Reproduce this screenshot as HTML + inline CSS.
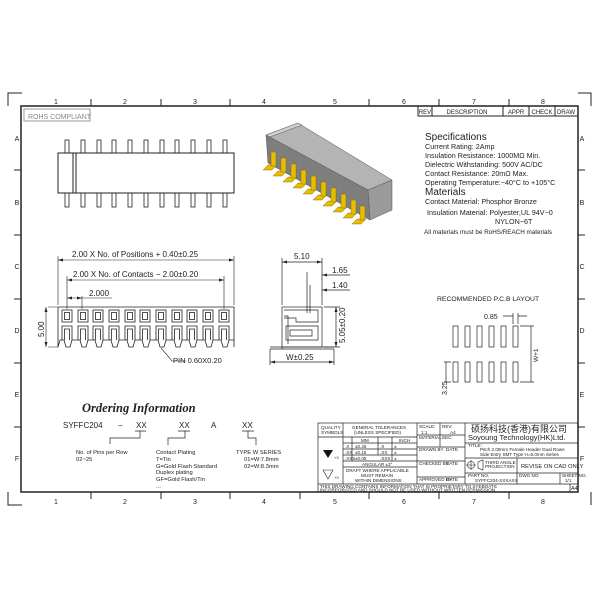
<!DOCTYPE html>
<html><head><meta charset="utf-8"><style>
html,body{margin:0;padding:0;background:#fff;width:600px;height:600px;overflow:hidden}
svg{display:block}
text{font-family:"Liberation Sans","Noto Sans CJK SC",sans-serif;fill:#222}
</style></head><body>
<svg width="600" height="600" viewBox="0 0 600 600" xmlns="http://www.w3.org/2000/svg">
<g stroke="#222" fill="none" stroke-width="1">
<rect x="21" y="106" width="557" height="386" stroke-width="1.5"/>
<path d="M8 106V93H22 M578 93H591V106 M8 492V505H22 M591 492V505"/>
<path d="M91 99V106 M161 99V106 M230 99V106 M369 99V106 M439 99V106 M509 99V106 M91 492V499 M161 492V499 M230 492V499 M300 492V499 M369 492V499 M439 492V499 M509 492V499 M14 170H21 M14 235H21 M14 299H21 M14 363H21 M14 427H21 M578 170H585 M578 235H585 M578 299H585 M578 363H585 M578 427H585"/>
<rect x="418" y="106" width="160" height="10"/>
<path d="M432 106V116 M503 106V116 M529 106V116 M555 106V116"/>
<rect x="24" y="109" width="66" height="12" stroke="#999"/>
<rect x="58" y="153" width="176" height="40"/>
<path d="M73 153V193 M76 153V193" stroke-width="1"/>
</g>
<g font-size="7" text-anchor="middle">
<text x="56" y="104">1</text><text x="125" y="104">2</text><text x="195" y="104">3</text><text x="264" y="104">4</text><text x="335" y="104">5</text><text x="404" y="104">6</text><text x="474" y="104">7</text><text x="543" y="104">8</text>
<text x="56" y="504">1</text><text x="125" y="504">2</text><text x="195" y="504">3</text><text x="264" y="504">4</text><text x="335" y="504">5</text><text x="404" y="504">6</text><text x="474" y="504">7</text><text x="543" y="504">8</text>
<text x="17" y="141">A</text><text x="17" y="205">B</text><text x="17" y="269">C</text><text x="17" y="333">D</text><text x="17" y="397">E</text><text x="17" y="461">F</text>
<text x="582" y="141">A</text><text x="582" y="205">B</text><text x="582" y="269">C</text><text x="582" y="333">D</text><text x="582" y="397">E</text><text x="582" y="461">F</text>
</g>
<g font-size="6" text-anchor="middle">
<text x="425" y="114">REV</text><text x="467" y="114">DESCRIPTION</text><text x="516" y="114">APPR</text><text x="542" y="114">CHECK</text><text x="566" y="114">DRAW</text>
</g>
<text x="28" y="119" font-size="7" style="fill:#888">ROHS COMPLIANT</text>

<g stroke="#222" fill="none" stroke-width="0.8">
<rect x="65" y="140" width="4" height="13"/><rect x="81" y="140" width="4" height="13"/><rect x="97" y="140" width="4" height="13"/><rect x="112" y="140" width="4" height="13"/><rect x="128" y="140" width="4" height="13"/><rect x="144" y="140" width="4" height="13"/><rect x="160" y="140" width="4" height="13"/><rect x="175" y="140" width="4" height="13"/><rect x="191" y="140" width="4" height="13"/><rect x="207" y="140" width="4" height="13"/><rect x="223" y="140" width="4" height="13"/>
<rect x="65" y="193" width="4" height="14"/><rect x="81" y="193" width="4" height="14"/><rect x="97" y="193" width="4" height="14"/><rect x="112" y="193" width="4" height="14"/><rect x="128" y="193" width="4" height="14"/><rect x="144" y="193" width="4" height="14"/><rect x="160" y="193" width="4" height="14"/><rect x="175" y="193" width="4" height="14"/><rect x="191" y="193" width="4" height="14"/><rect x="207" y="193" width="4" height="14"/><rect x="223" y="193" width="4" height="14"/>
</g>

<g stroke="#222" fill="none" stroke-width="0.8">
<path d="M58 307H234V347"/>
<path d="M58 307V347"/>
<path d="M58 347 L60 340 H64 L66 347 H70 L72 340 H80 L82 347 H86 L88 340 H95 L97 347 H101 L103 340 H111 L113 347 H117 L119 340 H127 L129 347 H133 L135 340 H142 L144 347 H148 L150 340 H158 L160 347 H164 L166 340 H174 L176 347 H180 L182 340 H189 L191 347 H195 L197 340 H205 L207 347 H211 L213 340 H221 L223 347 H227 L229 340 H234"/>
</g>
<g stroke="#222" fill="none" stroke-width="0.8">
<rect x="62" y="310" width="10" height="12"/><rect x="78" y="310" width="10" height="12"/><rect x="93" y="310" width="10" height="12"/><rect x="109" y="310" width="10" height="12"/><rect x="125" y="310" width="10" height="12"/><rect x="140" y="310" width="10" height="12"/><rect x="156" y="310" width="10" height="12"/><rect x="172" y="310" width="10" height="12"/><rect x="187" y="310" width="10" height="12"/><rect x="203" y="310" width="10" height="12"/><rect x="219" y="310" width="10" height="12"/>
<rect x="64.5" y="312.5" width="5" height="7"/><rect x="80.5" y="312.5" width="5" height="7"/><rect x="95.5" y="312.5" width="5" height="7"/><rect x="111.5" y="312.5" width="5" height="7"/><rect x="127.5" y="312.5" width="5" height="7"/><rect x="142.5" y="312.5" width="5" height="7"/><rect x="158.5" y="312.5" width="5" height="7"/><rect x="174.5" y="312.5" width="5" height="7"/><rect x="189.5" y="312.5" width="5" height="7"/><rect x="205.5" y="312.5" width="5" height="7"/><rect x="221.5" y="312.5" width="5" height="7"/>
<path d="M62 340V326H72V340 M64.5 340V329H69.5V340"/>
<path d="M78 340V326H88V340 M80.5 340V329H85.5V340"/>
<path d="M93 340V326H103V340 M95.5 340V329H100.5V340"/>
<path d="M109 340V326H119V340 M111.5 340V329H116.5V340"/>
<path d="M125 340V326H135V340 M127.5 340V329H132.5V340"/>
<path d="M140 340V326H150V340 M142.5 340V329H147.5V340"/>
<path d="M156 340V326H166V340 M158.5 340V329H163.5V340"/>
<path d="M172 340V326H182V340 M174.5 340V329H179.5V340"/>
<path d="M187 340V326H197V340 M189.5 340V329H194.5V340"/>
<path d="M203 340V326H213V340 M205.5 340V329H210.5V340"/>
<path d="M219 340V326H229V340 M221.5 340V329H226.5V340"/>
</g>
<g stroke="#222" fill="none" stroke-width="0.6">
<path d="M58 305V256 M234 305V256 M58 260H234"/>
<path d="M67 309V276 M224 309V276 M67 280H224"/>
<path d="M67 298H112 M82 309V296"/>
<path d="M48 307H58 M48 347H58 M46 307V347"/>
<path d="M161 348L172 361H186"/>
</g>
<g fill="#222">
<path d="M58 260l5-1.5v3z M234 260l-5-1.5v3z M67 280l5-1.5v3z M224 280l-5-1.5v3z M67 298l5-1.5v3z M82 298l-5-1.5v3z M46 307l-1.5 5h3z M46 347l-1.5-5h3z"/>
</g>
<g font-size="8">
<text x="72" y="257">2.00  X  No.  of  Positions  +  0.40±0.25</text>
<text x="73" y="277">2.00  X  No.  of  Contacts  −  2.00±0.20</text>
<text x="89" y="296">2.000</text>
<text x="173" y="363" font-size="7.5">PIN  0.60X0.20</text>
<text transform="translate(44,337) rotate(-90)" font-size="8">5.00</text>
</g>

<g stroke="#222" fill="none" stroke-width="0.7">
<rect x="282" y="307" width="40" height="40"/>
<path d="M270 347H334 M270 349H334 M282 349V347"/>
<path d="M284 310H318V322H296V318H284 M286 326H318V340H286Z M290 330H312V336H290Z M284 316H288V344"/>
<path d="M282 305V258 M322 305V258 M282 262H322"/>
<path d="M307 313V272 M310 313V285"/>
<path d="M322 290H350 M322 275H350 M324 307H340 M324 347H340 M336 307V347"/>
<path d="M270 349V365 M334 349V365 M270 362H334"/>
</g>
<g fill="#222"><path d="M282 262l5-1.5v3z M322 262l-5-1.5v3z M336 307l-1.5 5h3z M336 347l-1.5-5h3z M270 362l5-1.5v3z M334 362l-5-1.5v3z M322 275l5-1.5v3z M322 290l5-1.5v3z"/></g>
<g font-size="8">
<text x="294" y="259">5.10</text>
<text x="332" y="273">1.65</text>
<text x="332" y="288">1.40</text>
<text x="286" y="360">W±0.25</text>
<text transform="translate(345,343) rotate(-90)">5.05±0.20</text>
</g>

<g stroke="#555" stroke-width="0.5">
<polygon points="266,135 298,123 392,180 368,190" fill="#b4b4b4"/>
<polygon points="266,135 368,190 370,220 268,163" fill="#7e7e7e"/>
<polygon points="368,190 392,180 392,210 370,220" fill="#9a9a9a"/>
<polygon points="266,135 298,123 302,125 270,137" fill="#d0d0d0"/>
</g>
<g fill="#e6bd00" stroke="#7a6000" stroke-width="0.4">
<polygon points="263,170 272,170 277,165 268,165"/><polygon points="271,166 276,166 276,152 271,152"/>
<polygon points="273,176 282,176 287,171 278,171"/><polygon points="281,172 286,172 286,158 281,158"/>
<polygon points="283,182 292,182 297,177 288,177"/><polygon points="291,178 296,178 296,164 291,164"/>
<polygon points="293,188 302,188 307,183 298,183"/><polygon points="301,184 306,184 306,170 301,170"/>
<polygon points="303,194 312,194 317,189 308,189"/><polygon points="311,190 316,190 316,176 311,176"/>
<polygon points="313,200 322,200 327,195 318,195"/><polygon points="321,196 326,196 326,182 321,182"/>
<polygon points="323,206 332,206 337,201 328,201"/><polygon points="331,202 336,202 336,188 331,188"/>
<polygon points="333,212 342,212 347,207 338,207"/><polygon points="341,208 346,208 346,194 341,194"/>
<polygon points="343,218 352,218 357,213 348,213"/><polygon points="351,214 356,214 356,200 351,200"/>
<polygon points="352,224 361,224 366,219 357,219"/><polygon points="360,220 365,220 365,206 360,206"/>
</g>

<g font-size="7.2">
<text x="425" y="140" font-size="10">Specifications</text>
<text x="425" y="149">Current Rating:   2Amp</text>
<text x="425" y="158">Insulation Resistance:    1000MΩ Min.</text>
<text x="425" y="167">Dielectric Withstanding:    500V AC/DC</text>
<text x="425" y="176">Contact Resistance:    20mΩ Max.</text>
<text x="425" y="185">Operating Temperature:−40°C  to  +105°C</text>
<text x="425" y="195" font-size="10">Materials</text>
<text x="425" y="204">Contact Material:  Phosphor Bronze</text>
<text x="427" y="215">Insulation Material:  Polyester,UL  94V−0</text>
<text x="495" y="224">NYLON−6T</text>
<text x="424" y="234" font-size="6.3">All materials must be RoHS/REACH materials</text>
</g>

<text x="437" y="301" font-size="6.8">RECOMMENDED  P.C.B  LAYOUT</text>
<g stroke="#222" fill="none" stroke-width="0.7">
<rect x="453" y="326" width="5" height="21"/><rect x="465" y="326" width="5" height="21"/><rect x="477" y="326" width="5" height="21"/><rect x="489" y="326" width="5" height="21"/><rect x="501" y="326" width="5" height="21"/><rect x="513" y="326" width="5" height="21"/>
<rect x="453" y="362" width="5" height="20"/><rect x="465" y="362" width="5" height="20"/><rect x="477" y="362" width="5" height="20"/><rect x="489" y="362" width="5" height="20"/><rect x="501" y="362" width="5" height="20"/><rect x="513" y="362" width="5" height="20"/>
<path d="M513 324V313 M518 324V313 M503 316H513 M518 316H527"/>
<path d="M520 326H534 M520 382H534 M531 326V382"/>
<path d="M444 362H451 M444 382H451 M446 362V382"/>
</g>
<text x="484" y="319" font-size="7">0.85</text>
<text transform="translate(538,362) rotate(-90)" font-size="6.5">W+1</text>
<text transform="translate(447,395) rotate(-90)" font-size="7">3.25</text>

<text x="82" y="412" font-size="12.5" font-weight="bold" font-style="italic" style="font-family:'Liberation Serif',serif">Ordering Information</text>
<g font-size="8">
<text x="63" y="428">SYFFC204</text>
<text x="118" y="428">−</text>
<text x="136" y="428">XX</text>
<text x="179" y="428">XX</text>
<text x="211" y="428">A</text>
<text x="242" y="428">XX</text>
</g>
<g stroke="#222" fill="none" stroke-width="0.7">
<path d="M135 431H146 M140 431V438H110V444 M178 431H190 M185 431V438H168V445 M242 431H254 M248 431V438H256V445"/>
</g>
<g font-size="5.8">
<text x="76" y="454">No. of Pins per Row</text><text x="76" y="461">02~25</text>
<text x="156" y="454">Contact Plating</text><text x="156" y="461">T=Tin</text><text x="156" y="468">G=Gold Flash Standard</text><text x="156" y="474">Duplex plating</text><text x="156" y="481">GF=Gold Flash/Tin</text><text x="156" y="488">...</text>
<text x="236" y="454">TYPE  W  SERIES</text><text x="244" y="461">01=W:7.8mm</text><text x="244" y="468">02=W:8.3mm</text>
</g>

<g stroke="#222" fill="none" stroke-width="0.7">
<rect x="318" y="423" width="260" height="69"/>
<path d="M343 423V484 M417 423V484 M465 423V484 M440 423V447"/>
<path d="M318 437H343 M343 437H417 M352 437V461 M378 437V455 M392 437V461 M343 443H417 M343 449H417 M343 455H417 M343 461H417 M343 467H417"/>
<path d="M417 435H465 M417 447H465 M417 461H465 M417 477H465 M318 484H578"/>
<path d="M465 443H578 M465 458H578 M465 473H578 M517 458V484 M560 473V484 M570 484V492"/>
</g>
<g font-size="4.6">
<text x="321" y="429">QUALITY</text><text x="321" y="434">SYMBOLS</text>
<text x="352" y="429">GENERAL TOLERANCES</text><text x="354" y="434">(UNLESS SPECIFIED)</text>
<text x="361" y="442">MM</text><text x="399" y="442">INCH</text>
<text x="345" y="448">.X</text><text x="355" y="448">±0.25</text><text x="380" y="448">.X</text><text x="394" y="448">±</text>
<text x="345" y="454">.XX</text><text x="355" y="454">±0.15</text><text x="380" y="454">.XX</text><text x="394" y="454">±</text>
<text x="345" y="460">.XXX</text><text x="355" y="460">±0.05</text><text x="380" y="460">.XXX</text><text x="394" y="460">±</text>
<text x="362" y="466">ANGULAR ±3°</text>
<text x="346" y="472">DRAFT WHERE APPLICABLE</text><text x="361" y="477">MUST REMAIN</text><text x="355" y="482">WITHIN DIMENSIONS</text>
<text x="419" y="428">SCALE:</text><text x="421" y="434">1:1</text><text x="442" y="428">REV:</text><text x="450" y="434">A4</text>
<text x="419" y="439">MATERIAL:</text><text x="442" y="439">SEC:</text>
<text x="419" y="451">DRAWN BY</text><text x="446" y="451">DATE</text>
<text x="419" y="465">CHECKED BY</text><text x="446" y="465">DATE</text>
<text x="419" y="481">APPROVED BY</text><text x="446" y="481">DATE</text>
<text x="468" y="447">TITLE:</text>
<text x="480" y="451">Pitch 2.00mm Female Header Dual Rows</text><text x="480" y="456">Side Entry SMT Type H=5.0mm Series</text>
<text x="485" y="464">THIRD ANGLE</text><text x="485" y="468">PROJECTION</text>
<text x="468" y="477">PART NO.</text><text x="475" y="482">SYFFC204-XXXAXX</text><text x="519" y="477">DWG NO.</text><text x="562" y="477">SHEET NO.</text><text x="565" y="482">1/1</text>
<text x="320" y="488">THIS DRAWING CONTAINS INFORMATION THAT IS PROPRIETARY TO SYEBOATS</text>
<text x="320" y="491.5">INCORPORATED AND SHOULD NOT BE USED WITHOUT WRITTEN PERMISSION</text>
<text x="571" y="490" font-size="5.5">A4</text>
</g>
<text x="521" y="468" font-size="5.8">REVISE ON CAD ONLY</text>
<text x="471" y="432" font-size="9">硕扬科技(香港)有限公司</text>
<text x="468" y="440" font-size="7.5">Soyoung Technology(HK)Ltd.</text>
<polygon points="323,450 333,450 328,458" fill="#111"/>
<text x="334" y="459" font-size="4">+3</text>
<polygon points="323,470 333,470 328,479" fill="none" stroke="#222" stroke-width="0.6"/>
<text x="334" y="479" font-size="4">+3</text>
<g stroke="#222" fill="none" stroke-width="0.6">
<circle cx="471" cy="465" r="3.5"/><path d="M466 465H476 M471 460V470"/>
<path d="M478 462V468 L483 470V460Z"/>
</g>
</svg>
</body></html>
